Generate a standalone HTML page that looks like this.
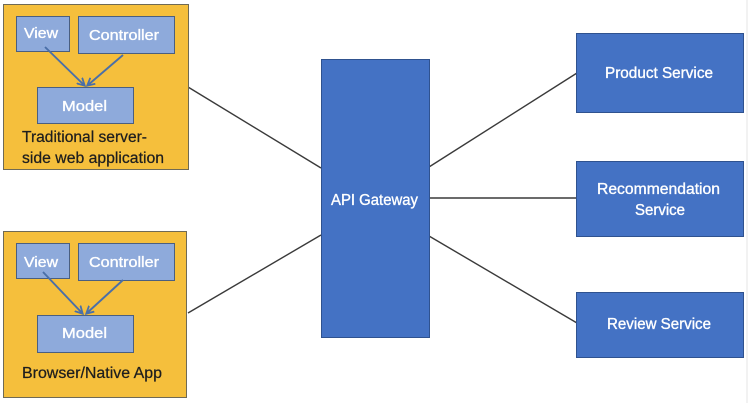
<!DOCTYPE html>
<html>
<head>
<meta charset="utf-8">
<style>
  html, body { margin:0; padding:0; background:#ffffff; }
  svg { display:block; }
  text { font-family: "Liberation Sans", "DejaVu Sans", sans-serif; }
</style>
</head>
<body>
<svg width="748" height="403" viewBox="0 0 748 403" xmlns="http://www.w3.org/2000/svg">
  <defs>
    <marker id="ah" markerWidth="9" markerHeight="9" refX="6.5" refY="4.5" orient="auto" markerUnits="userSpaceOnUse">
      <path d="M0,0.5 L7.5,4.5 L0,8.5" fill="none" stroke="#4a6fa8" stroke-width="1.8"/>
    </marker>
  </defs>
  <rect x="0" y="0" width="748" height="403" fill="#ffffff"/>
  <line x1="747" y1="0" x2="747" y2="403" stroke="#e4e4e4" stroke-width="1"/>

  <!-- connectors -->
  <g stroke="#3a3a3a" stroke-width="1.4" fill="none">
    <line x1="188" y1="87" x2="321" y2="168"/>
    <line x1="188" y1="313" x2="321" y2="235"/>
    <line x1="429" y1="167" x2="577" y2="73"/>
    <line x1="429" y1="198" x2="577" y2="198"/>
    <line x1="429" y1="236" x2="577" y2="323"/>
  </g>

  <!-- top yellow container -->
  <rect x="3.5" y="4.5" width="185" height="165" fill="#f5bf3c" stroke="#6f6a55" stroke-width="1"/>
  <rect x="16.5" y="16.5" width="53" height="35" fill="#8eaadb" stroke="#4a5f80" stroke-width="1"/>
  <rect x="78.5" y="16.5" width="96" height="37" fill="#8eaadb" stroke="#4a5f80" stroke-width="1"/>
  <rect x="37.5" y="87.5" width="96" height="36" fill="#8eaadb" stroke="#4a5f80" stroke-width="1"/>
  <g stroke="#4a6fa8" stroke-width="1.9" fill="none">
    <line x1="45" y1="47" x2="84" y2="85" marker-end="url(#ah)"/>
    <line x1="123" y1="55" x2="88" y2="85" marker-end="url(#ah)"/>
  </g>
  <g fill="#ffffff" stroke="#ffffff" stroke-width="0.35" font-size="14.5">
    <text x="24" y="38" textLength="34" lengthAdjust="spacingAndGlyphs">View</text>
    <text x="89" y="40" textLength="70" lengthAdjust="spacingAndGlyphs">Controller</text>
    <text x="62" y="111" textLength="45" lengthAdjust="spacingAndGlyphs">Model</text>
  </g>
  <g fill="#1e1e1e" stroke="#1e1e1e" stroke-width="0.25" font-size="15.5">
    <text x="22" y="142" textLength="125" lengthAdjust="spacingAndGlyphs">Traditional server-</text>
    <text x="22" y="163" textLength="142" lengthAdjust="spacingAndGlyphs">side web application</text>
  </g>

  <!-- bottom yellow container -->
  <rect x="3.5" y="231.5" width="183" height="166" fill="#f5bf3c" stroke="#6f6a55" stroke-width="1"/>
  <rect x="16.5" y="243.5" width="53" height="35" fill="#8eaadb" stroke="#4a5f80" stroke-width="1"/>
  <rect x="78.5" y="243.5" width="96" height="37" fill="#8eaadb" stroke="#4a5f80" stroke-width="1"/>
  <rect x="37.5" y="315.5" width="96" height="37" fill="#8eaadb" stroke="#4a5f80" stroke-width="1"/>
  <g stroke="#4a6fa8" stroke-width="1.9" fill="none">
    <line x1="43" y1="272" x2="82" y2="313" marker-end="url(#ah)"/>
    <line x1="123" y1="280" x2="87" y2="313" marker-end="url(#ah)"/>
  </g>
  <g fill="#ffffff" stroke="#ffffff" stroke-width="0.35" font-size="14.5">
    <text x="24" y="267" textLength="34" lengthAdjust="spacingAndGlyphs">View</text>
    <text x="89" y="267" textLength="70" lengthAdjust="spacingAndGlyphs">Controller</text>
    <text x="62" y="338" textLength="45" lengthAdjust="spacingAndGlyphs">Model</text>
  </g>
  <text x="22" y="378" fill="#1e1e1e" stroke="#1e1e1e" stroke-width="0.25" font-size="15.5" textLength="140" lengthAdjust="spacingAndGlyphs">Browser/Native App</text>

  <!-- API Gateway -->
  <rect x="321.5" y="59.5" width="108" height="278" fill="#4472c4" stroke="#2f528f" stroke-width="1"/>
  <g fill="#ffffff" stroke="#ffffff" stroke-width="0.35" font-size="15.5">
    <text x="331" y="205" textLength="87" lengthAdjust="spacingAndGlyphs">API Gateway</text>
  </g>

  <!-- Services -->
  <rect x="576.5" y="33.5" width="167" height="79" fill="#4472c4" stroke="#2f528f" stroke-width="1"/>
  <rect x="576.5" y="161.5" width="167" height="75" fill="#4472c4" stroke="#2f528f" stroke-width="1"/>
  <rect x="576.5" y="292.5" width="167" height="65" fill="#4472c4" stroke="#2f528f" stroke-width="1"/>
  <g fill="#ffffff" stroke="#ffffff" stroke-width="0.35" font-size="15.5">
    <text x="605" y="78" textLength="108" lengthAdjust="spacingAndGlyphs">Product Service</text>
    <text x="597" y="194" textLength="123" lengthAdjust="spacingAndGlyphs">Recommendation</text>
    <text x="660" y="215" text-anchor="middle" textLength="50" lengthAdjust="spacingAndGlyphs">Service</text>
    <text x="607" y="329" textLength="104" lengthAdjust="spacingAndGlyphs">Review Service</text>
  </g>
</svg>
</body>
</html>
